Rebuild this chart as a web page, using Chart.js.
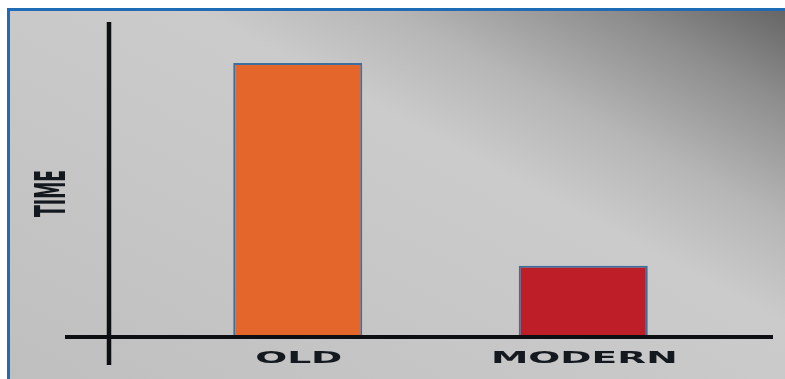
<!DOCTYPE html>
<html>
<head>
<meta charset="utf-8">
<script src="https://cdn.jsdelivr.net/npm/chart.js@4/dist/chart.umd.min.js"></script>
<style>
  html, body { margin: 0; padding: 0; background: #fff; overflow: hidden; }
  #wrap { position: relative; width: 785px; height: 379px; }
  /* framed gray panel behind the chart */
  #panel {
    position: absolute; left: 7px; top: 8px; right: 0; bottom: 0;
    border-top: 3px solid #1f6cb4; border-left: 3px solid #1f6cb4;
    background: linear-gradient(28deg, #bfbfbf 0%, #c7c7c7 38%, #cbcbcb 60%, #b6b6b6 73%, #8e8e8e 88%, #666 100%);
  }
  #chart { position: absolute; left: 0; top: 0; }
</style>
</head>
<body>
<div id="wrap">
  <div id="panel"></div>
  <canvas id="chart" width="785" height="379"></canvas>
</div>
<script>
// --- DATA ---
const categories = ['OLD', 'MODERN'];
const timeValues = [100, 26];
const barColors = ['#e4662a', '#bd1e27'];
const axisTitle = 'TIME';
const yMax = 115;

const LABEL_FONT = 'bold 16px "DejaVu Sans"';
const TITLE_FONT = 'bold 42px "DejaVu Sans"';
const INK = '#14191f';

// hand drawn axes: long black strokes that overshoot each other,
// plus stretched category labels and a squeezed rotated title
const sketchAxes = {
    id: 'sketchAxes',
    afterDatasetsDraw(chart) {
        const { ctx } = chart;
        const x = chart.scales.x, y = chart.scales.y;
        const base = y.getPixelForValue(0);
        const axisX = x.left - 46;

        ctx.save();
        ctx.strokeStyle = '#0d0f12';
        ctx.lineCap = 'butt';

        ctx.lineWidth = 4.5;
        ctx.beginPath();
        ctx.moveTo(axisX, y.top);
        ctx.lineTo(axisX, base + 28);
        ctx.stroke();

        ctx.lineWidth = 4;
        ctx.beginPath();
        ctx.moveTo(x.left - 90, base);
        ctx.lineTo(x.right + 47, base);
        ctx.stroke();

        // category labels, widened
        ctx.fillStyle = INK;
        ctx.font = LABEL_FONT;
        ctx.textAlign = 'center';
        ctx.textBaseline = 'middle';
        categories.forEach((label, i) => {
            const px = x.getPixelForTick(i);
            ctx.save();
            ctx.translate(px + 1, base + 22);
            ctx.scale(2.35, 1);
            ctx.fillText(label, 0, 0);
            ctx.restore();
        });

        // rotated axis title, squeezed along its length
        ctx.save();
        ctx.font = TITLE_FONT;
        ctx.translate(axisX - 57, (y.top + base) / 2 + 14);
        ctx.rotate(-Math.PI / 2);
        ctx.scale(0.41, 1);
        ctx.fillText(axisTitle, 0, 2);
        ctx.restore();

        ctx.restore();
    }
};

new Chart(document.getElementById('chart').getContext('2d'), {
    type: 'bar',
    data: {
        labels: categories,
        datasets: [{
            data: timeValues,
            backgroundColor: barColors,
            borderColor: '#3d6e9e',
            borderWidth: 2,
            borderSkipped: false,
            barPercentage: 0.452,
            categoryPercentage: 1
        }]
    },
    options: {
        responsive: false,
        animation: false,
        devicePixelRatio: 1,
        layout: { padding: { left: 155, right: 59, top: 22, bottom: 42 } },
        plugins: { legend: { display: false }, tooltip: { enabled: false } },
        scales: {
            x: { display: false, offset: true },
            y: { display: false, min: 0, max: yMax }
        }
    },
    plugins: [sketchAxes]
});
</script>
</body>
</html>
